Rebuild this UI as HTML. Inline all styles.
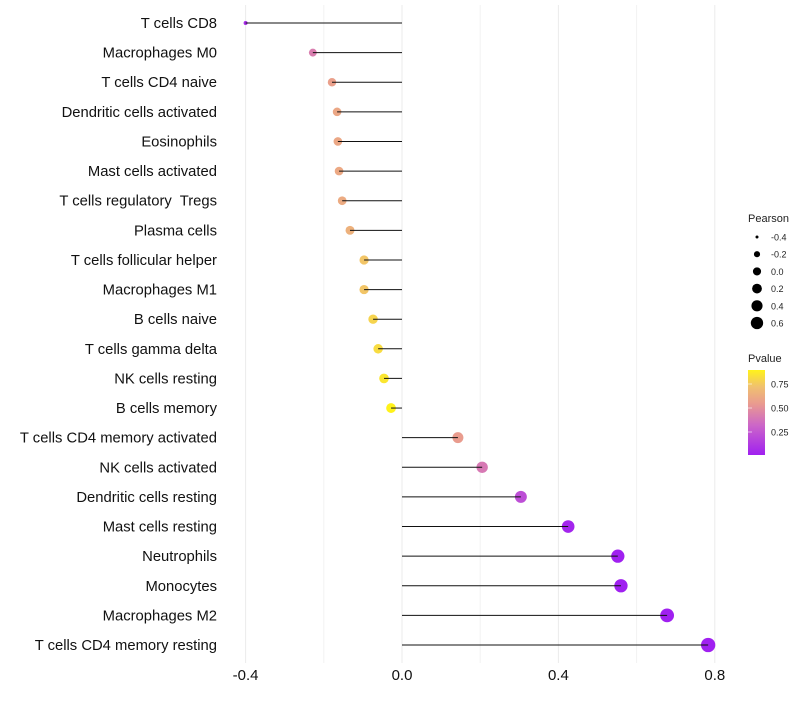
<!DOCTYPE html>
<html><head><meta charset="utf-8"><style>
body{margin:0;background:#fff;width:800px;height:700px;overflow:hidden}
svg text{font-family:"Liberation Sans",sans-serif;white-space:pre}
</style></head><body>
<svg id="chart" width="800" height="700">
<defs><linearGradient id="pg" x1="0" y1="1" x2="0" y2="0">
<stop offset="0" stop-color="#A020F0"/><stop offset="0.35" stop-color="#CC66C8"/><stop offset="0.6" stop-color="#E99A90"/><stop offset="0.8" stop-color="#F0C070"/><stop offset="1" stop-color="#FFF21A"/></linearGradient></defs>
<g id="grid"></g><g id="marks"></g><g id="axes"></g>
<g id="legend"></g>
</svg>
<script>
const categories=["T cells CD8","Macrophages M0","T cells CD4 naive","Dendritic cells activated","Eosinophils","Mast cells activated","T cells regulatory  Tregs","Plasma cells","T cells follicular helper","Macrophages M1","B cells naive","T cells gamma delta","NK cells resting","B cells memory","T cells CD4 memory activated","NK cells activated","Dendritic cells resting","Mast cells resting","Neutrophils","Monocytes","Macrophages M2","T cells CD4 memory resting"];
const pearson=[-0.40,-0.228,-0.179,-0.166,-0.164,-0.161,-0.153,-0.133,-0.097,-0.097,-0.074,-0.061,-0.046,-0.028,0.143,0.205,0.304,0.425,0.552,0.56,0.678,0.783];
const pvalues=[0.06,0.40,0.55,0.58,0.58,0.59,0.60,0.63,0.72,0.72,0.78,0.81,0.85,0.90,0.53,0.38,0.20,0.03,0.01,0.01,0.01,0.01];
const xTicks=[-0.4,0.0,0.4,0.8];
const xTickLabels=["-0.4","0.0","0.4","0.8"];
const xMinor=[-0.2,0.2,0.6];
const sizeLegend=[-0.4,-0.2,0.0,0.2,0.4,0.6];
const sizeLegendLabels=["-0.4","-0.2","0.0","0.2","0.4","0.6"];
const pLegend=[0.75,0.50,0.25];
const pLegendLabels=["0.75","0.50","0.25"];

const NS="http://www.w3.org/2000/svg";
const x=v=>402+v*391;
const y=i=>23+i*(622/21);
const r=v=>2+5.2*Math.sqrt(Math.max(0,(v+0.4)/1.2));
const rl=v=>Math.sqrt(Math.max(0.5,2.25+36*(v+0.4)));
function lerp(a,b,t){return a.map((c,k)=>Math.round(c+(b[k]-c)*t));}
const stops=[[0.01,[160,32,240]],[0.3,[204,102,200]],[0.52,[233,154,144]],[0.7,[240,192,112]],[0.9,[255,242,26]]];
function color(p){
  if(p<=stops[0][0])return `rgb(${stops[0][1]})`;
  for(let k=1;k<stops.length;k++){if(p<=stops[k][0]){const t=(p-stops[k-1][0])/(stops[k][0]-stops[k-1][0]);return `rgb(${lerp(stops[k-1][1],stops[k][1],t)})`;}}
  return `rgb(${stops[stops.length-1][1]})`;
}
function mk(tag,attrs,parent){const e=document.createElementNS(NS,tag);for(const k in attrs)e.setAttribute(k,attrs[k]);parent.appendChild(e);return e;}
const grid=document.getElementById('grid'),marks=document.getElementById('marks'),axes=document.getElementById('axes'),leg=document.getElementById('legend');
xMinor.forEach(v=>{const l=mk('line',{x1:x(v),x2:x(v),y1:5,y2:663,stroke:'#f2f2f2','stroke-width':1},grid);

});
xTicks.forEach((v,i)=>{const l=mk('line',{x1:x(v),x2:x(v),y1:5,y2:663,stroke:'#ebebeb','stroke-width':1},grid);


const t=mk('text',{x:x(v),y:680,'text-anchor':'middle','font-size':15,fill:'#111'},axes);t.textContent=xTickLabels[i];

});
categories.forEach((c,i)=>{
  const t=mk('text',{x:217,y:y(i)+5,'text-anchor':'end','font-size':14.8,fill:'#111'},axes);t.textContent=c;
  
  
  const pt=mk('circle',{cx:x(pearson[i]),cy:y(i),r:r(pearson[i]),fill:color(pvalues[i])},marks);
  
  
  const s=mk('line',{x1:x(0),x2:x(pearson[i]),y1:y(i),y2:y(i),stroke:'#111','stroke-width':1},marks);
  
  
});
let tt=mk('text',{x:748,y:222,'font-size':11,fill:'#222'},leg);tt.textContent='Pearson';


sizeLegend.forEach((v,i)=>{const yy=237+i*17.2;
 const c=mk('circle',{cx:757,cy:yy,r:rl(v),fill:'#000'},leg);
 
 
 const t=mk('text',{x:771,y:yy+3.5,'font-size':9,fill:'#222'},leg);t.textContent=sizeLegendLabels[i];
 
 });
tt=mk('text',{x:748,y:362,'font-size':11,fill:'#222'},leg);tt.textContent='Pvalue';


const bar=mk('rect',{x:748,y:370,width:17,height:85,fill:'url(#pg)'},leg);


const py=p=>384+(0.75-p)*96;
pLegend.forEach((p,i)=>{
 const l=mk('line',{x1:748,x2:752,y1:py(p),y2:py(p),stroke:'#fff','stroke-width':0.6},leg);
 
 
 const t=mk('text',{x:771,y:py(p)+3.5,'font-size':9,fill:'#222'},leg);t.textContent=pLegendLabels[i];
 
 });
</script>
</body></html>
